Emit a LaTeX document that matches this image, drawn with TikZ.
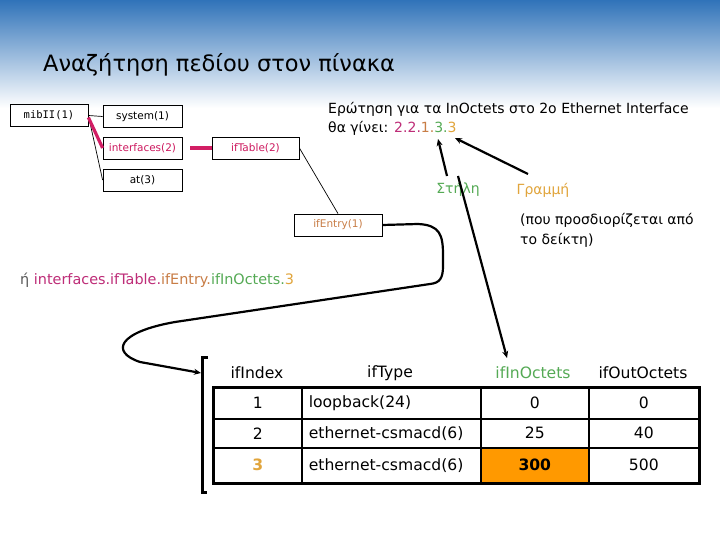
\documentclass[tikz,border=0pt]{standalone}
\usepackage{fontspec}
\setmainfont{DejaVu Sans}
\newfontfamily\monof{DejaVu Sans Mono}
\usetikzlibrary{arrows.meta}
\definecolor{topblue}{RGB}{48,115,185}
\definecolor{mag}{RGB}{205,25,95}
\definecolor{magline}{RGB}{210,30,100}
\definecolor{pathmag}{RGB}{190,45,120}
\definecolor{entryc}{RGB}{200,125,70}
\definecolor{greenc}{RGB}{85,170,85}
\definecolor{orangec}{RGB}{225,165,60}
\definecolor{cellor}{RGB}{255,153,0}
\definecolor{graytxt}{RGB}{90,90,90}
\newcommand{\tabfont}{\fontsize{15.6}{18}\selectfont}
\newcommand{\smallf}{\fontsize{10.5}{12}\selectfont}
\newcommand{\qfont}{\fontsize{14}{18}\selectfont}
\begin{document}
\begin{tikzpicture}[x=1pt,y=-1pt,
  treebox/.style={draw,line width=0.8pt,minimum width=79pt,minimum height=22pt,inner sep=0pt,font=\smallf},
  cellbox/.style={draw=black,line width=1.6pt,inner sep=0pt,anchor=north west,font=\tabfont},
  hdr/.style={font=\tabfont,inner sep=0pt},
  bigarrow/.style={line width=2.2pt,-{Stealth[length=7pt,width=6pt]}},
  thinline/.style={line width=0.7pt},
  magthick/.style={line width=3.2pt,magline}]
\useasboundingbox (0,0) rectangle (720,540);
\fill[white] (0,0) rectangle (720,540);
\shade[top color=topblue,bottom color=white] (0,0) rectangle (720,108);

\node[anchor=base west,inner sep=0pt,font=\fontsize{22.5}{26}\selectfont] (title) at (43,72) {Αναζήτηση πεδίου στον πίνακα};

% tree
\node[treebox,minimum width=78pt,font=\monof\fontsize{10.5}{12}\selectfont] (mib) at (49,115.5) {mibII(1)};
\node[treebox] (sys) at (142.5,116.5) {system(1)};
\node[treebox,text=mag] (ifc) at (142.5,148) {interfaces(2)};
\node[treebox,text=mag,minimum width=87pt] (tab) at (255.5,148) {ifTable(2)};
\node[treebox] (at) at (142.5,180) {at(3)};
\node[treebox,text=entryc,minimum width=88pt] (entry) at (338,225) {ifEntry(1)};

\draw[thinline] (mib.east) -- (sys.west);
\draw[thinline] (mib.east) -- (at.west);
\draw[magthick] ([yshift=-2pt]mib.east) -- (ifc.west);
\draw[magthick] ([xshift=8pt]ifc.east) -- (tab.west);
\draw[thinline] (tab.east) -- (entry.north);

% question
\node[anchor=base west,inner sep=0pt,font=\qfont] (q1) at (328,114) {Ερώτηση για τα InOctets στο 2ο Ethernet Interface};
\node[anchor=base west,inner sep=0pt,font=\qfont] (q2) at (328,133) {θα γίνει: \textcolor{pathmag}{2.2.}\textcolor{entryc}{1.}\textcolor{greenc}{3.}\textcolor{orangec}{3}};
\coordinate (qcol) at (438,139);
\coordinate (qrow) at (455,138);

\node[font=\qfont,text=greenc,inner sep=0pt] (stili) at (458,189) {Στήλη};
\node[font=\qfont,text=orangec,inner sep=0pt] (grammi) at (543,190) {Γραμμή};
\node[anchor=base west,inner sep=0pt,font=\qfont] (note1) at (520,225) {(που προσδιορίζεται από};
\node[anchor=base west,inner sep=0pt,font=\qfont] (note2) at (520,244) {το δείκτη)};

\draw[bigarrow] (447,176) -- (qcol);
\draw[bigarrow] (528,174) -- (qrow);

% path text
\node[anchor=base west,inner sep=0pt,font=\fontsize{14.4}{16}\selectfont] (path) at (20,284) {\textcolor{graytxt}{ή} \textcolor{pathmag}{interfaces.ifTable.}\textcolor{entryc}{ifEntry.}\textcolor{greenc}{ifInOctets.}\textcolor{orangec}{3}};

% bracket
\draw[line width=3pt] (208,357) -- (202,357) -- (202,492) -- (207,492);
\coordinate (brk) at (201,373);

% curve from ifEntry to table
\draw[line width=2.2pt,-{Stealth[length=7pt,width=6pt]}] (entry.east) -- (418,224)
  .. controls (440,225) and (443,235) .. (443,255) -- (443,266)
  .. controls (443,278) and (440,283) .. (430,284) -- (175,322)
  .. controls (118,332) and (110,352) .. (140,362) -- (brk);

% table headers
\node[hdr] (h1) at (257,373) {ifIndex};
\node[hdr] (h2) at (390,373) {ifType};
\node[hdr,text=greenc] (h3) at (533,373) {ifInOctets};
\node[hdr] (h4) at (643,373) {ifOutOctets};
\coordinate (colhit) at (507,358);
\draw[bigarrow] ([yshift=13pt]stili.center) -- (colhit);

% table cells
\node[cellbox,minimum width=88pt,minimum height=31pt] (a1) at (213,387) {1};
\node[cellbox,text width=165pt,inner xsep=7pt,align=left,minimum height=31pt] (b1) at (301,387) {loopback(24)};
\node[cellbox,minimum width=108pt,minimum height=31pt] (c1) at (480,387) {0};
\node[cellbox,minimum width=110pt,minimum height=31pt] (d1) at (588,387) {0};

\node[cellbox,minimum width=88pt,minimum height=29pt] (a2) at (213,418) {2};
\node[cellbox,text width=165pt,inner xsep=7pt,align=left,minimum height=29pt] (b2) at (301,418) {ethernet-csmacd(6)};
\node[cellbox,minimum width=108pt,minimum height=29pt] (c2) at (480,418) {25};
\node[cellbox,minimum width=110pt,minimum height=29pt] (d2) at (588,418) {40};

\node[cellbox,minimum width=88pt,minimum height=35pt,text=orangec] (a3) at (213,447) {\textbf{3}};
\node[cellbox,text width=165pt,inner xsep=7pt,align=left,minimum height=35pt] (b3) at (301,447) {ethernet-csmacd(6)};
\node[cellbox,minimum width=108pt,minimum height=35pt,fill=cellor] (c3) at (480,447) {\textbf{300}};
\node[cellbox,minimum width=110pt,minimum height=35pt] (d3) at (588,447) {500};

\draw[line width=3pt] (a1.north west) rectangle (d3.south east);
\end{tikzpicture}
\end{document}
